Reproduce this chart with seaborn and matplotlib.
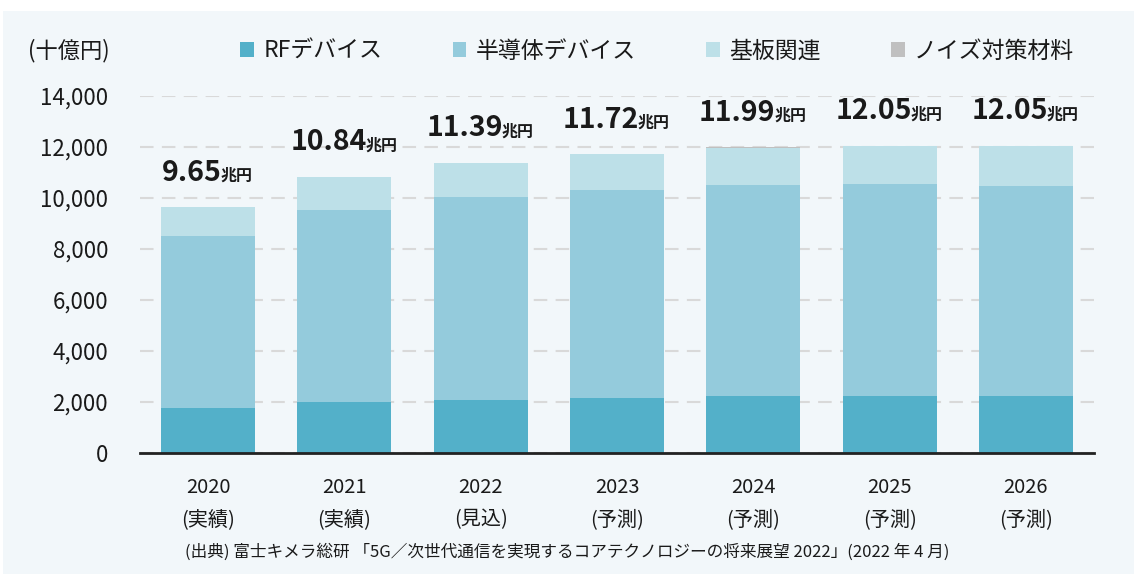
import matplotlib
matplotlib.use("Agg")
import matplotlib.pyplot as plt
from matplotlib.patches import Patch, Rectangle
import numpy as np
import pandas as pd
import seaborn as sns

# 市場規模（十億円）
years = ["2020", "2021", "2022", "2023", "2024", "2025", "2026"]
phases = ["実績", "実績", "見込", "予測", "予測", "予測", "予測"]
rf_devices = [1760, 2010, 2090, 2170, 2220, 2250, 2250]
semiconductor_devices = [6750, 7530, 7960, 8140, 8300, 8290, 8230]
substrates = [1130, 1290, 1330, 1400, 1460, 1500, 1560]
noise_materials = [10, 10, 10, 10, 10, 10, 10]
totals_trillion = [9.65, 10.84, 11.39, 11.72, 11.99, 12.05, 12.05]

series_names = ["RFデバイス", "半導体デバイス", "基板関連", "ノイズ対策材料"]
series_values = [rf_devices, semiconductor_devices, substrates, noise_materials]
series_colors = ["#53b0c9", "#94cbdc", "#bde0e8", "#c0c0c0"]

PANEL = "#f2f7fa"
TEXT = "#1a1a1a"

sns.set_theme(style="white")
plt.rcParams["font.family"] = ["Noto Sans CJK JP", "DejaVu Sans"]

fig = plt.figure(figsize=(11.34, 5.74), dpi=100, facecolor="white")
fig.patches.append(Rectangle((3 / 1134, 0), 1 - 3 / 1134, 1 - 11 / 574,
                             transform=fig.transFigure, facecolor=PANEL,
                             edgecolor="none", zorder=-10))

ax = fig.add_axes([140 / 1134, (574 - 453) / 574, 954 / 1134, (453 - 96) / 574])
ax.set_facecolor(PANEL)
ax.patch.set_alpha(0)

labels = [f"{y}\n({p})" for y, p in zip(years, phases)]
df = pd.DataFrame({"label": labels})
stack = np.cumsum(np.array(series_values, dtype=float), axis=0)

# stacked bars: draw cumulative heights from the top layer down
for i in range(len(series_names) - 1, -1, -1):
    sns.barplot(x=df["label"], y=stack[i], color=series_colors[i],
                width=0.69, linewidth=0, saturation=1, ax=ax, zorder=2)

ax.set_xlim(-0.5, 6.5)
ax.set_ylim(0, 14000)
ax.set_yticks(np.arange(0, 14001, 2000))
ax.set_yticklabels([f"{v:,}" for v in range(0, 14001, 2000)])
ax.yaxis.grid(True, color="#d9d9d9", linewidth=1.5, linestyle=(0, (6.5, 4)), zorder=0)
ax.xaxis.grid(False)
ax.set_axisbelow(True)
for s in ["left", "right", "top"]:
    ax.spines[s].set_visible(False)
ax.spines["bottom"].set_color("#222222")
ax.spines["bottom"].set_linewidth(2)
ax.spines["bottom"].set_zorder(5)
ax.tick_params(axis="y", length=0, pad=23, labelsize=16, labelcolor=TEXT)
ax.tick_params(axis="x", length=0, pad=17, labelsize=14.5, labelcolor=TEXT)
for t in ax.get_xticklabels():
    t.set_linespacing(1.75)
ax.set_xlabel("")
ax.set_ylabel("")

# total labels above each bar: bold figure followed by a smaller unit
fig.canvas.draw()
renderer = fig.canvas.get_renderer()
to_pt = 72 / fig.dpi
for i, tot in enumerate(totals_trillion):
    top = stack[-1][i]
    num = ax.annotate(f"{tot:.2f}", xy=(i, top), xytext=(0, 19), textcoords="offset points",
                      ha="center", va="baseline", fontsize=20.5, fontweight="bold",
                      color=TEXT, annotation_clip=False)
    unit = ax.annotate("兆円", xy=(i, top), xytext=(0, 19), textcoords="offset points",
                       ha="left", va="baseline", fontsize=11.5, fontweight="bold",
                       color=TEXT, annotation_clip=False)
    wn = num.get_window_extent(renderer).width
    wu = unit.get_window_extent(renderer).width
    num.set_position((-(wu / 2) * to_pt, 19))
    unit.set_position(((wn / 2 - wu / 2) * to_pt - 1, 19))

# unit label
fig.text(28 / 1134, 1 - 51 / 574, "(十億円)", ha="left", va="center", fontsize=16, color=TEXT)

# legend
handles = [Patch(facecolor=c, edgecolor="none", label=n) for c, n in zip(series_colors, series_names)]
fig.legend(handles=handles, loc="center left", bbox_to_anchor=(229 / 1134, 1 - 51 / 574),
           ncol=4, frameon=False, fontsize=16.5, handlelength=0.6, handleheight=0.6,
           handletextpad=0.42, columnspacing=3.05, borderpad=0, labelcolor=TEXT)

# source note
fig.text(567 / 1134, 1 - 552 / 574,
         "(出典) 富士キメラ総研 「5G／次世代通信を実現するコアテクノロジーの将来展望 2022」(2022 年 4 月)",
         ha="center", va="center", fontsize=12, color=TEXT)

fig.savefig("out.png", dpi=100, facecolor=fig.get_facecolor())
